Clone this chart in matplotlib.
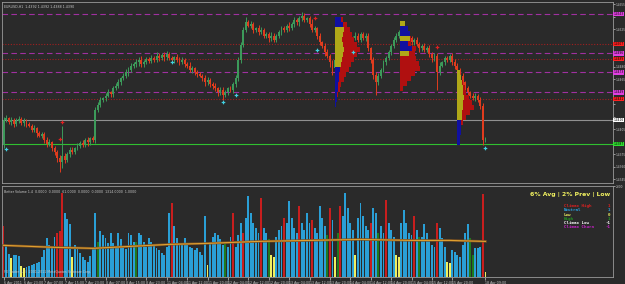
import numpy as np
import matplotlib
matplotlib.use('Agg')
import matplotlib.pyplot as plt

# ---- chart data (EURUSD H1) ----
first_open = 1.4386
closes = [
    1.4416, 1.4418, 1.4413, 1.4416, 1.4411, 1.4415, 1.4417, 1.4412, 1.4415, 1.4411,
    1.4409, 1.4404, 1.4406, 1.4400, 1.4397, 1.4399, 1.4392, 1.4387, 1.4389, 1.4382,
    1.4378, 1.4370, 1.4366, 1.4373, 1.4368, 1.4375, 1.4380, 1.4378, 1.4382, 1.4385,
    1.4388, 1.4386, 1.4392, 1.4389, 1.4394, 1.4392, 1.4428, 1.4434, 1.4440, 1.4442,
    1.4445, 1.4449, 1.4447, 1.4454, 1.4457, 1.4461, 1.4466, 1.4469, 1.4473, 1.4476,
    1.4481, 1.4483, 1.4485, 1.4488, 1.4483, 1.4485, 1.4489, 1.4487, 1.4490, 1.4488,
    1.4493, 1.4490, 1.4494, 1.4491, 1.4495, 1.4490, 1.4488, 1.4491, 1.4488, 1.4485,
    1.4488, 1.4483, 1.4481, 1.4476, 1.4478, 1.4473, 1.4471, 1.4469, 1.4466, 1.4461,
    1.4464, 1.4459, 1.4457, 1.4454, 1.4449, 1.4452, 1.4446, 1.4449, 1.4454, 1.4452,
    1.4459, 1.4466, 1.4488, 1.4506, 1.4524, 1.4533, 1.4529, 1.4531, 1.4524, 1.4526,
    1.4521, 1.4524, 1.4517, 1.4519, 1.4514, 1.4517, 1.4512, 1.4517, 1.4521, 1.4526,
    1.4524, 1.4529, 1.4526, 1.4531, 1.4536, 1.4533, 1.4538, 1.4541, 1.4536, 1.4538,
    1.4531, 1.4524, 1.4526, 1.4517, 1.4509, 1.4505, 1.4497, 1.4493, 1.4485, 1.4478,
    1.4488, 1.4497, 1.4502, 1.4507, 1.4505, 1.4512, 1.4509, 1.4514, 1.4517, 1.4512,
    1.4519, 1.4514, 1.4517, 1.4502, 1.4488, 1.4470, 1.4461, 1.4469, 1.4476, 1.4485,
    1.4490, 1.4497, 1.4505, 1.4512, 1.4517, 1.4521, 1.4519, 1.4524, 1.4517, 1.4514,
    1.4509, 1.4512, 1.4507, 1.4502, 1.4505, 1.4500, 1.4502, 1.4495, 1.4490, 1.4493,
    1.4473, 1.4481, 1.4485, 1.4490, 1.4488, 1.4493, 1.4485, 1.4481, 1.4476, 1.4469,
    1.4461, 1.4454, 1.4449, 1.4445, 1.4442, 1.4445, 1.4440, 1.4433, 1.4392, 1.4393,
]
# wick lengths above / below the body, in pips
up_pips = [
    3, 4, 2, 3, 2, 3, 4, 2, 3, 2,   3, 2, 4, 2, 3, 3, 2, 3, 4, 2,
    3, 2, 4, 36, 3, 2, 4, 3, 2, 3,  3, 4, 2, 3, 2, 3, 3, 4, 3, 2,
    3, 4, 2, 3, 3, 4, 2, 3, 4, 3,   3, 2, 4, 3, 5, 3, 2, 3, 4, 3,
    4, 3, 2, 3, 4, 3, 3, 2, 4, 3,   3, 2, 3, 4, 3, 2, 3, 3, 2, 4,
    3, 2, 3, 3, 2, 4, 3, 3, 2, 3,   3, 4, 3, 3, 4, 6, 3, 4, 3, 2,
    4, 3, 2, 3, 3, 4, 3, 2, 3, 3,   3, 2, 4, 3, 3, 2, 3, 4, 3, 2,
    3, 6, 3, 2, 3, 2, 3, 4, 2, 3,   4, 3, 3, 2, 4, 3, 2, 3, 4, 3,
    3, 2, 3, 3, 2, 3, 4, 3, 2, 3,   3, 3, 2, 4, 3, 3, 2, 3, 4, 3,
    3, 2, 4, 3, 2, 3, 3, 4, 2, 3,   3, 4, 2, 3, 3, 2, 3, 4, 3, 2,
    3, 2, 3, 2, 3, 3, 2, 4, 3, 2,
]
dn_pips = [
    4, 3, 2, 3, 3, 2, 3, 2, 3, 3,   2, 3, 3, 4, 2, 3, 4, 3, 2, 3,
    4, 5, 13, 8, 4, 3, 4, 3, 3, 2,  3, 2, 3, 4, 3, 3, 4, 3, 2, 3,
    3, 2, 4, 3, 2, 3, 3, 2, 3, 4,   2, 3, 3, 4, 3, 3, 2, 3, 3, 2,
    3, 3, 2, 4, 3, 2, 3, 4, 3, 3,   2, 3, 3, 2, 4, 3, 3, 2, 3, 4,
    3, 3, 4, 3, 4, 3, 6, 3, 3, 2,   4, 3, 3, 4, 3, 3, 2, 3, 4, 3,
    3, 2, 3, 3, 4, 3, 2, 3, 3, 3,   2, 3, 3, 2, 3, 3, 4, 3, 2, 3,
    3, 3, 2, 4, 3, 3, 4, 3, 5, 8,   4, 3, 2, 3, 3, 2, 3, 3, 2, 3,
    3, 2, 3, 3, 4, 5, 15, 3, 3, 2,  3, 2, 3, 3, 2, 3, 3, 2, 3, 3,
    3, 3, 2, 4, 3, 3, 2, 3, 4, 3,   21, 3, 2, 3, 3, 2, 3, 4, 3, 3,
    3, 4, 3, 3, 2, 3, 3, 4, 6, 2,
]

volumes = [
    1300, 800, 575, 475, 550, 550, 525, 275, 225, 250,
    275, 300, 325, 350, 375, 500, 675, 975, 800, 750,
    1000, 1100, 1175, 2125, 1625, 1475, 1350, 500, 800, 725,
    600, 500, 425, 375, 525, 725, 1625, 875, 1175, 1050,
    975, 850, 1125, 850, 750, 1125, 950, 725, 700, 1125,
    1050, 875, 875, 1125, 1050, 875, 750, 975, 875, 800,
    725, 675, 600, 550, 750, 1625, 1875, 1300, 975, 800,
    850, 975, 800, 750, 725, 675, 725, 625, 550, 1550,
    300, 875, 1000, 1125, 1050, 950, 800, 875, 750, 1000,
    1625, 750, 1050, 1375, 1125, 1500, 2050, 1625, 1375, 1250,
    1125, 2000, 1250, 1100, 950, 550, 500, 1000, 1200, 1300,
    1500, 1375, 1925, 1500, 1250, 1125, 1800, 1375, 1200, 1625,
    1375, 1450, 1250, 1125, 1800, 1500, 1300, 1050, 1750, 1450,
    500, 1125, 1800, 1550, 2125, 1750, 1375, 1200, 550, 1500,
    1875, 1550, 1300, 1200, 1375, 1750, 1625, 1125, 1300, 1125,
    1950, 1375, 1200, 1000, 550, 500, 1375, 1700, 1375, 1125,
    1050, 1550, 1200, 1000, 1000, 1350, 1100, 925, 800, 750,
    1375, 1250, 975, 750, 375, 350, 675, 625, 550, 500,
    800, 1100, 1350, 975, 550, 725, 725, 750, 2100, 125,
]
# Better Volume classes: R climax high, B neutral, Y low, G high
vol_class = ("RBBYBBBYYB" "BBBBBBBBBB" "BRRRBBBYBB" "BBBBBBBGBB" "BBBBBBBBBB"
             "BBGBBBBBBB" "BBBBBBRBBB" "BBBBBBBBBB" "YBBBBBBGBB" "RBBBRBBBBB"
             "BRBBGYYBBB" "RBBBBBRBBB" "BRBBBBBGRB" "YGRBBBBBYB" "BBBBRBBGBB"
             "RBBBYYBBBB" "BRBGBBBBBB" "RBBBYYBBBB" "BBBGGBBBRY")
ma_bars = [0, 20, 35, 50, 65, 80, 100, 120, 140, 160, 175, 189]
ma_vals = [800, 750, 725, 775, 825, 850, 900, 925, 950, 925, 925, 900]

# horizontal levels: (price, kind)
levels = [(1.4543, 'pivot'), (1.4507, 'sr'), (1.4496, 'pivot'), (1.4489, 'sr'),
          (1.4473, 'pivot'), (1.4449, 'pivot'), (1.4441, 'sr'),
          (1.4416, 'prev'), (1.4387, 'bid')]

# signal arrows (bar, price)
cyan_marks = [(1, 1.4381), (66, 1.4485), (86, 1.4437), (91, 1.4446),
              (123, 1.4500), (137, 1.4497), (189, 1.4382)]
red_marks = [(22, 1.4393), (23, 1.4413), (122, 1.4538), (170, 1.4504)]

# market profiles: start bar, top price, core counts, core colours, extension counts
profiles = [
    (130, 1.4536,
     [6, 8, 9, 8, 7, 8, 9, 8, 7, 6, 5, 4, 4, 3, 3, 2, 2, 1],
     "BBYYYYYYYYBBBBBBBB",
     [2, 4, 6, 9, 12, 14, 16, 14, 12, 10, 9, 7, 5, 3, 2, 1, 0, 0]),
    (155.5, 1.4532,
     [5, 8, 10, 10, 8, 12, 9, 6, 5, 4, 3, 3, 2, 1],
     "YBBYBBYRRRRRRR",
     [0, 0, 0, 1, 3, 4, 6, 10, 14, 16, 12, 8, 5, 2]),
    (178, 1.4473,
     [3, 4, 5, 6, 6, 7, 6, 6, 5, 5, 4, 4, 4, 3, 3],
     "YYYYYYYYYYBBBBB",
     [0, 0, 1, 2, 3, 5, 9, 11, 8, 4, 2, 0, 0, 0, 0]),
]

tick_bars = [0, 8, 16, 24, 32, 40, 48, 56, 64, 72, 80, 88, 96, 104, 112,
             120, 128, 136, 144, 152, 160, 168, 176, 189]
tick_text = ["6 Apr 2011", "6 Apr 23:00", "7 Apr 07:00", "7 Apr 15:00",
             "7 Apr 23:00", "8 Apr 07:00", "8 Apr 15:00", "8 Apr 23:00",
             "11 Apr 04:00", "11 Apr 12:00", "11 Apr 20:00", "12 Apr 04:00",
             "12 Apr 12:00", "12 Apr 20:00", "13 Apr 04:00", "13 Apr 12:00",
             "13 Apr 20:00", "14 Apr 04:00", "14 Apr 12:00", "14 Apr 20:00",
             "15 Apr 04:00", "15 Apr 12:00", "15 Apr 20:00", "18 Apr 09:00"]

legend_rows = [("Climax High", 1, '#e02020'), ("Neutral", 1, '#2aa0e0'),
               ("Low", 0, '#f0f060'), ("High", 1, '#229922'),
               ("Climax Low", -1, '#ffffff'), ("Climax Churn", -1, '#d020d0')]

BG = '#2a2a2a'
FG = '#c8c8c8'
UP = '#3c9a5a'
DN = '#e03c1e'
VCOL = {'R': '#c81e1e', 'B': '#2a9fd6', 'Y': '#f0f060', 'G': '#1f7a1f'}
PCOL = {'B': '#1010a0', 'Y': '#b0a818', 'R': '#b01010'}
LVL = {'pivot': ('#a030a0', (0, (5, 3)), '#e040e0'),
       'sr': ('#a02020', (0, (1, 1.5)), '#ff2020'),
       'prev': ('#909090', '-', '#ffffff'),
       'bid': ('#30c030', '-', '#30e030')}
SMALL = 2.3
SCALE = 2.05


def main():
    n = len(closes)
    x = np.arange(n)
    c = np.array(closes)
    o = np.concatenate([[first_open], c[:-1]])
    hi = np.maximum(o, c) + np.array(up_pips) * 0.0001
    lo = np.minimum(o, c) - np.array(dn_pips) * 0.0001

    fig = plt.figure(figsize=(6.25, 2.84), dpi=100, facecolor=BG)
    ax = fig.add_axes([0.0032, 0.3556, 0.9776, 0.6373], facecolor=BG)
    axv = fig.add_axes([0.0032, 0.0246, 0.9776, 0.3204], facecolor=BG)

    # level lines with coloured price boxes on the scale
    for price, kind in levels:
        col, ls, box = LVL[kind]
        ax.axhline(price, color=col, lw=0.8, ls=ls, zorder=1)
        ax.text(1.0012, price, '%.4f' % price, transform=ax.get_yaxis_transform(),
                fontsize=SCALE, color='black', va='center', ha='left', clip_on=False,
                bbox=dict(facecolor=box, edgecolor='none', pad=0.25), zorder=5)

    # candles
    up = c >= o
    colors = np.where(up, UP, DN)
    ax.vlines(x, lo, hi, colors=colors, lw=0.7, zorder=2)
    body = np.maximum(np.abs(c - o), 0.00004)
    ax.bar(x, body, bottom=np.minimum(o, c), width=0.75, color=colors,
           linewidth=0, zorder=3)

    # market profiles
    for start, top, core, ccol, ext in profiles:
        step = 0.0006
        for k in range(len(core)):
            p = top - k * step
            w = core[k] / 2.55
            ax.barh(p, w, height=step, left=start, color=PCOL[ccol[k]],
                    linewidth=0, zorder=4)
            if ext[k]:
                ax.barh(p, ext[k] / 2.55, height=step, left=start + w,
                        color=PCOL['R'], linewidth=0, zorder=4)

    for b, p in cyan_marks:
        ax.plot(b, p, marker='P', ms=2.6, color='#40d0e0', mew=0, zorder=6)
    for b, p in red_marks:
        ax.plot(b, p, marker='P', ms=2.6, color='#e02020', mew=0, zorder=6)

    ax.set_xlim(-0.6, 239)
    ax.set_ylim(1.43402, 1.45574)
    ax.set_xticks([])
    ax.yaxis.tick_right()
    ticks = np.arange(1.4345, 1.4556, 0.0015)
    ax.set_yticks(ticks)
    # the coloured level boxes sit on top of the plain scale labels
    lvl_prices = [p for p, _ in levels]
    ax.set_yticklabels(['' if min(abs(t - q) for q in lvl_prices) < 0.0006
                        else '%.4f' % t for t in ticks])
    ax.tick_params(axis='y', labelsize=SCALE, colors=FG, length=1.2, width=0.5, pad=0.5)
    ax.text(0.004, 0.985, "EURUSD,H1  1.4392 1.4392 1.4388 1.4390",
            transform=ax.transAxes, fontsize=SMALL, color=FG, va='top')

    # volume panel
    vcols = [VCOL[k] for k in vol_class]
    axv.bar(x, volumes, width=0.75, color=vcols, linewidth=0, zorder=2)
    axv.plot(ma_bars, ma_vals, color='#7a5020', lw=1.8, zorder=3)
    axv.plot(ma_bars, ma_vals, color='#e0a030', lw=0.8, zorder=4)
    axv.set_xlim(-0.6, 239)
    axv.set_ylim(0, 2300)
    axv.yaxis.tick_right()
    axv.set_yticks([2300])
    axv.set_yticklabels(['2300'])
    axv.tick_params(axis='y', labelsize=SCALE, colors=FG, length=1.2, width=0.5, pad=0.5)
    axv.set_xticks(tick_bars)
    axv.set_xticklabels(tick_text, ha='left')
    axv.tick_params(axis='x', labelsize=SMALL, colors=FG, length=2, width=0.5, pad=0.8)
    axv.text(0.004, 0.96, "Better Volume 1.4  0.0000  0.0000  61.0000  0.0000  0.0000  1314.0000  1.0000",
             transform=axv.transAxes, fontsize=SMALL, color=FG, va='top')
    axv.text(0.004, 0.03, "FX Trader 4, \u00a9 2001-2011 MetaQuotes Software Corp.",
             transform=axv.transAxes, fontsize=SMALL, color=FG, va='bottom')
    axv.text(0.995, 0.93, "6% Avg | 2% Prev | Low", transform=axv.transAxes,
             fontsize=4.4, color='#f0f060', fontweight='bold', ha='right', va='top')
    for k, (name, val, col) in enumerate(legend_rows):
        yy = 0.8 - k * 0.046
        axv.text(0.919, yy, name, transform=axv.transAxes, fontsize=3.0,
                 color=col, family='DejaVu Sans Mono', fontweight='bold', va='top')
        axv.text(0.995, yy, str(val), transform=axv.transAxes, fontsize=3.0,
                 color=col, family='DejaVu Sans Mono', fontweight='bold', va='top', ha='right')

    for a in (ax, axv):
        for s in a.spines.values():
            s.set_color('#9a9a9a')
            s.set_linewidth(0.6)

    fig.savefig('out.png', dpi=100, facecolor=BG)
    plt.close(fig)


if __name__ == '__main__':
    main()
